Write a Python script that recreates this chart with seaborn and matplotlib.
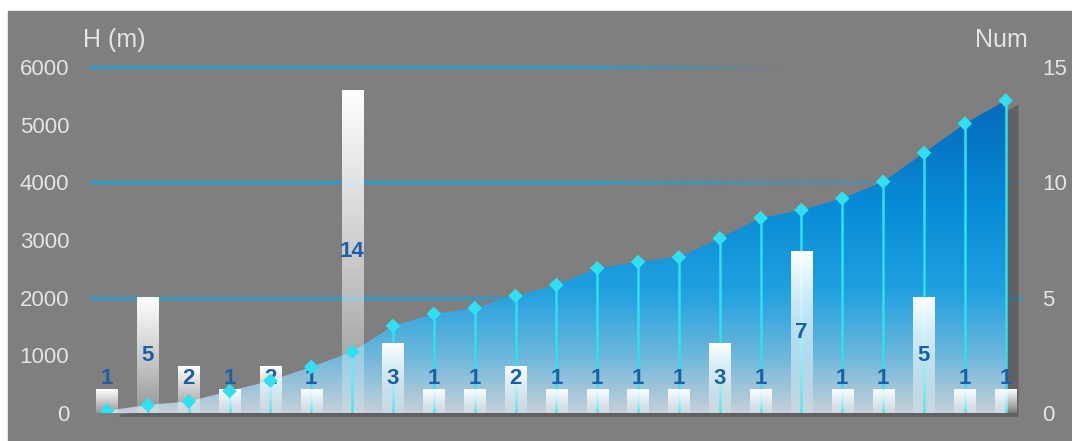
import numpy as np
import matplotlib
matplotlib.use("Agg")
import matplotlib.pyplot as plt
import matplotlib.patches as mpatches
from matplotlib.collections import LineCollection
from matplotlib.colors import LinearSegmentedColormap, to_rgba
import seaborn as sns

# data
points = [f"P{i + 1}" for i in range(23)]
heights = [40, 140, 200, 380, 560, 800, 1060, 1510, 1720, 1820, 2030, 2220,
           2510, 2620, 2700, 3030, 3380, 3520, 3720, 4010, 4510, 5020, 5420]
counts = [1, 5, 2, 1, 2, 1, 14, 3, 1, 1, 2, 1, 1, 1, 1, 3, 1, 7, 1, 1, 5, 1, 1]
h_ticks = [0, 1000, 2000, 3000, 4000, 5000, 6000]
n_ticks = [0, 5, 10, 15]
grid_levels = [2000, 4000, 6000]

bg = "#7f7f7f"
txt = "#e4e4e4"
sns.set_style("dark", {"axes.facecolor": bg})
plt.rcParams['font.family'] = ['Liberation Sans', 'DejaVu Sans']

fig = plt.figure(figsize=(10.72, 4.41), dpi=100)
fig.patch.set_facecolor("white")
fig.patches.append(mpatches.Rectangle((8 / 1072, 0), 1, 1 - 11 / 441,
                                      transform=fig.transFigure, color=bg, zorder=-10))

ax = fig.add_axes([0.0827, 0.0635, 0.8726, 0.7846])
ax.set_facecolor(bg)
x = np.arange(len(points))
xlim = (-0.45, 22.45)

# fading blue gridlines
def fading_line(ax, y, x_solid, x_end, a_end):
    xs = np.linspace(xlim[0], x_end, 200)
    segs = [[(xs[i], y), (xs[i + 1], y)] for i in range(len(xs) - 1)]
    mids = (xs[:-1] + xs[1:]) / 2
    a = np.where(mids < x_solid, 1.0,
                 1.0 - (1.0 - a_end) * (mids - x_solid) / (x_end - x_solid))
    cols = [to_rgba("#2e9bcb", aa) for aa in a]
    ax.add_collection(LineCollection(segs, colors=cols, linewidths=2.4,
                                     zorder=1, clip_on=False))

fading_line(ax, grid_levels[0], 22, 22.4, 1.0)
fading_line(ax, grid_levels[1], 11.8, 22.4, 0.15)
fading_line(ax, grid_levels[2], 11.8, 16.5, 0.0)

# shadow of the area
ax.fill_between(x + 0.3, np.array(heights) - 60, -60, color="#4a4a4a",
                alpha=0.55, lw=0, zorder=1.5, clip_on=False)

# area with vertical gradient
poly = ax.fill_between(x, heights, 0, color="none", lw=0)
area_cmap = LinearSegmentedColormap.from_list(
    "area", [(0.0, "#c4d0d8"), (0.17, "#6ab6dc"), (0.35, "#21a0e0"),
             (0.6, "#088bd6"), (0.92, "#0468b8"), (1.0, "#0460b0")])
grad = np.linspace(0, 1, 256).reshape(-1, 1)
img = ax.imshow(grad, extent=[xlim[0], xlim[1], 0, 6000], origin="lower",
                aspect="auto", cmap=area_cmap, zorder=2)
img.set_clip_path(poly.get_paths()[0], transform=ax.transData)

ax.vlines(x, 0, heights, color="#2ee0f0", lw=1.8, zorder=3)

ax.set_xlim(*xlim)
ax.set_ylim(0, 6000)
ax.set_yticks(h_ticks)
ax.set_xticks([])
ax.tick_params(axis="y", colors=txt, labelsize=16, length=0, pad=14)
for s in ax.spines.values():
    s.set_visible(False)
ax.grid(False)

# bars on the Num axis
ax2 = ax.twinx()
sns.barplot(x=points, y=counts, ax=ax2, width=0.52, color="white", zorder=4)
white = np.ones((256, 1, 4))
white[:, 0, 3] = 0.15 + 0.85 * np.linspace(0, 1, 256) ** 0.9
for p in ax2.patches:
    x0, w, h = p.get_x(), p.get_width(), p.get_height()
    p.set_facecolor("none")
    p.set_edgecolor("none")
    ax2.imshow(white, extent=[x0, x0 + w, 0, h], origin="lower",
               aspect="auto", zorder=4)
for i, c in enumerate(counts):
    ax2.text(i, max(c / 2, 1.5), str(c), ha="center", va="center",
             color="#1b5fa6", fontsize=16, fontweight="bold", zorder=6)
ax2.set_xlim(*xlim)
ax2.set_ylim(0, 15)
ax2.set_yticks(n_ticks)
ax2.set_xticks([])
ax2.set_xlabel("")
ax2.tick_params(axis="y", colors=txt, labelsize=16, length=0, pad=13)
for s in ax2.spines.values():
    s.set_visible(False)
ax2.grid(False)

# markers above the bars
ax3 = ax.twinx()
sns.scatterplot(x=x, y=heights, ax=ax3, marker="D", s=55, color="#2ee0f0",
                edgecolor="none", zorder=5)
ax3.set_xlim(*xlim)
ax3.set_ylim(0, 6000)
ax3.set_yticks([])
ax3.set_xticks([])
for s in ax3.spines.values():
    s.set_visible(False)
ax3.grid(False)
ax3.patch.set_visible(False)

fig.text(83 / 1072, 1 - 40 / 441, "H (m)", ha="left", va="center",
         color=txt, fontsize=18)
fig.text(1028 / 1072, 1 - 40 / 441, "Num", ha="right", va="center",
         color=txt, fontsize=18)

fig.savefig("out.png", dpi=100)
